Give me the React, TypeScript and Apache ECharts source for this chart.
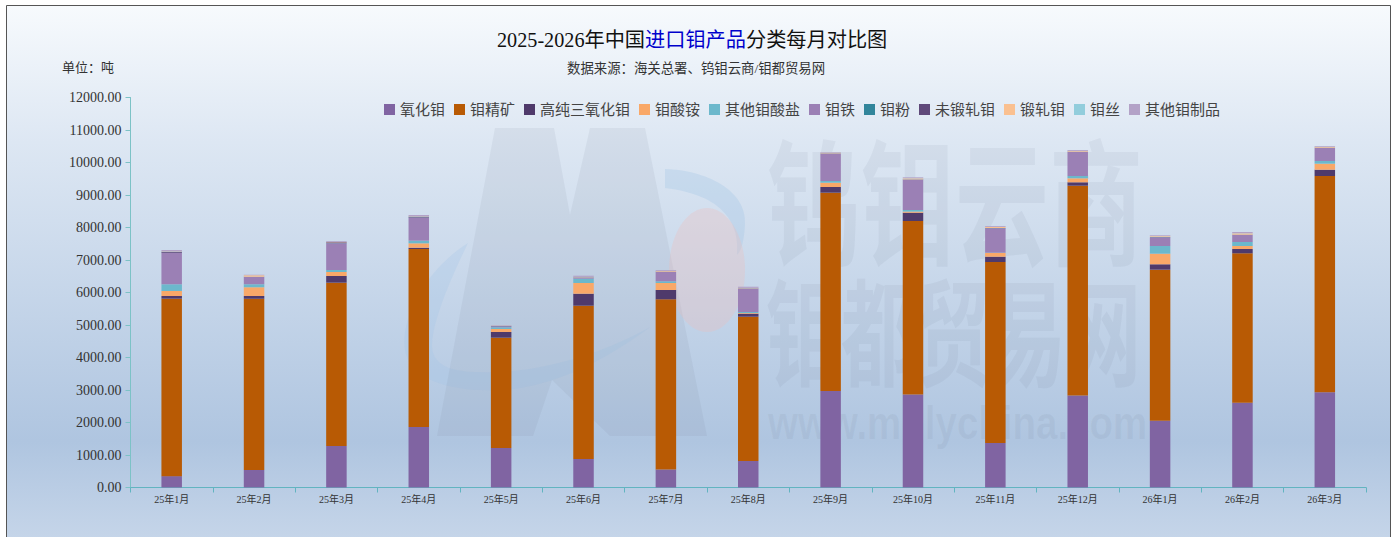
import React, { useEffect, useRef } from "react";
import * as echarts from "echarts";

const categories = ["25年1月","25年2月","25年3月","25年4月","25年5月","25年6月","25年7月","25年8月","25年9月","25年10月","25年11月","25年12月","26年1月","26年2月","26年3月"];
const moOxide = [350,538,1277,1861,1215,877,554,815,2969,2862,1369,2831,2055,2610,2929];
const moConcentrate = [5460,5271,5025,5477,3395,4717,5237,4440,6102,5338,5569,6455,4647,4596,6656];
const highPurityOxide = [83,83,206,40,175,369,286,93,175,255,164,105,166,132,194];
const ammoniumMolybdate = [154,268,123,135,92,329,215,20,132,35,113,123,326,93,184];
const otherMolybdates = [206,92,61,81,52,133,53,32,53,48,10,71,237,123,83];
const ferroMo = [963,225,821,708,30,30,286,717,840,933,750,738,267,215,400];
const moPowder = [5,5,5,5,5,5,5,5,5,5,5,5,5,5,5];
const unwroughtMo = [31,5,27,25,5,5,5,5,5,5,5,5,5,5,5];
const wroughtMo = [10,40,10,10,10,10,20,10,20,30,30,20,25,40,25];
const moWire = [5,5,5,5,5,5,5,5,5,5,5,5,5,5,5];
const otherMoProducts = [41,16,25,38,15,37,26,36,17,28,26,27,22,38,22];

const seriesNames = ["氧化钼","钼精矿","高纯三氧化钼","钼酸铵","其他钼酸盐","钼铁","钼粉","未锻轧钼","锻轧钼","钼丝","其他钼制品"];
const seriesValues = [moOxide,moConcentrate,highPurityOxide,ammoniumMolybdate,otherMolybdates,ferroMo,moPowder,unwroughtMo,wroughtMo,moWire,otherMoProducts];
const seriesColors = ["#8064A2","#B85A04","#4F3A6B","#F9A868","#6CB8CC","#9B80B5","#31859B","#5F497A","#FAC090","#92CDDC","#B3A2C7"];

const yTicks = { min: 0, max: 12000, interval: 1000 };
const FONT = '"Liberation Serif","Noto Sans CJK SC"';
const CJK = '"Noto Sans CJK SC"';

echarts.graphic.registerShape("swooshLow", echarts.graphic.extendPath(
  "M468 243 C425 270 400 320 405 350 C410 380 450 392 500 390 C560 388 620 350 650 327 C610 350 540 375 480 372 C450 372 432 365 432 345 C433 320 450 280 468 243Z", {}) as any);
echarts.graphic.registerShape("swooshHigh", echarts.graphic.extendPath(
  "M665 169 C705 170 748 190 745 225 C744 240 742 250 737 255 C740 225 725 195 665 188Z", {}) as any);

export default function App() {
  const ref = useRef<HTMLDivElement>(null);
  useEffect(() => {
    const chart = echarts.init(ref.current!, undefined, { renderer: "svg" });
    const wm = "rgba(110,120,140,0.09)";
    chart.setOption({
      animation: false,
      title: [
        {
          text: "{a|2025-2026年中国}{b|进口钼产品}{a|分类每月对比图}",
          left: 497,
          top: 30,
          padding: 0,
          textStyle: {
            rich: {
              a: { fontFamily: FONT, fontSize: 20.2, color: "#111", fontWeight: "normal" },
              b: { fontFamily: FONT, fontSize: 20.2, color: "#0000CC", fontWeight: "normal" },
            },
          },
        },
        { text: "数据来源：海关总署、钨钼云商/钼都贸易网", left: 567, top: 62, padding: 0, textStyle: { fontFamily: FONT, fontSize: 13.4, color: "#333", fontWeight: "normal" } },
        { text: "单位：吨", left: 62, top: 61, padding: 0, textStyle: { fontFamily: FONT, fontSize: 13, color: "#333", fontWeight: "normal" } },
      ],
      legend: {
        data: seriesNames,
        left: 379,
        top: 97,
        itemWidth: 11,
        itemHeight: 11,
        itemGap: 9,
        icon: "rect",
        textStyle: { fontFamily: FONT, fontSize: 15, color: "#444" },
      },
      grid: { left: 130.5, right: 29, top: 97.5, bottom: 49.5 },
      xAxis: {
        type: "category",
        data: categories,
        boundaryGap: true,
        axisLine: { lineStyle: { color: "#62B4C0", width: 1 } },
        axisTick: { show: true, alignWithLabel: false, length: 5, lineStyle: { color: "#62B4C0" } },
        axisLabel: { fontFamily: FONT, fontSize: 10, color: "#333", margin: 7, interval: 0 },
      },
      yAxis: {
        type: "value",
        ...yTicks,
        splitLine: { show: false },
        axisLine: { show: true, lineStyle: { color: "#7CC2C6", width: 1 } },
        axisTick: { show: true, length: 5, lineStyle: { color: "#7CC2C6" } },
        axisLabel: { fontFamily: FONT, fontSize: 14, color: "#333", margin: 9, formatter: (v: number) => v.toFixed(2) },
      },
      series: seriesNames.map((name, i) => ({
        name,
        type: "bar",
        stack: "total",
        barWidth: 20.5,
        data: seriesValues[i],
        itemStyle: { color: seriesColors[i] },
      })),
      graphic: [
        {
          type: "rect",
          silent: true,
          shape: { x: 6.5, y: 5.5, width: 1384, height: 545 },
          style: {
            stroke: "#555",
            lineWidth: 1,
            fill: {
              type: "linear", x: 0, y: 0, x2: 0, y2: 1,
              colorStops: [
                { offset: 0, color: "#F7FAFD" },
                { offset: 0.25, color: "#DDE7F3" },
                { offset: 0.8, color: "#AFC5E0" },
                { offset: 1, color: "#C8D7EA" },
              ],
            },
          },
        },
        { type: "swooshLow", silent: true, style: { fill: "rgba(160,195,230,0.25)" } },
        { type: "swooshHigh", silent: true, style: { fill: "rgba(160,195,230,0.3)" } },
        {
          type: "polygon",
          silent: true,
          shape: { points: [[495,128],[554,128],[570,215],[590,128],[645,128],[707,436],[610,436],[552,380],[533,436],[437,436]] },
          style: { fill: "rgba(120,125,145,0.1)" },
        },
        { type: "ellipse", silent: true, shape: { cx: 707, cy: 270, rx: 38, ry: 62 }, style: { fill: "rgba(240,190,185,0.3)" } },
        { type: "text", silent: true, x: 767, y: 127, scaleY: 1.45, style: { text: "钨钼云商", fontFamily: CJK, fontWeight: "bold", fontSize: 94, fill: wm } },
        { type: "text", silent: true, x: 766, y: 268, scaleY: 1.55, style: { text: "钼都贸易网", fontFamily: CJK, fontWeight: "bold", fontSize: 75, fill: wm } },
        { type: "text", silent: true, x: 768, y: 400, scaleY: 1.2, style: { text: "www.molychina.com", fontFamily: '"Liberation Sans"', fontWeight: "bold", fontSize: 38.5, fill: wm } },
      ],
    });
    return () => chart.dispose();
  }, []);
  return <div ref={ref} style={{ position: "absolute", left: 0, top: 0, width: 1395, height: 537 }} />;
}
